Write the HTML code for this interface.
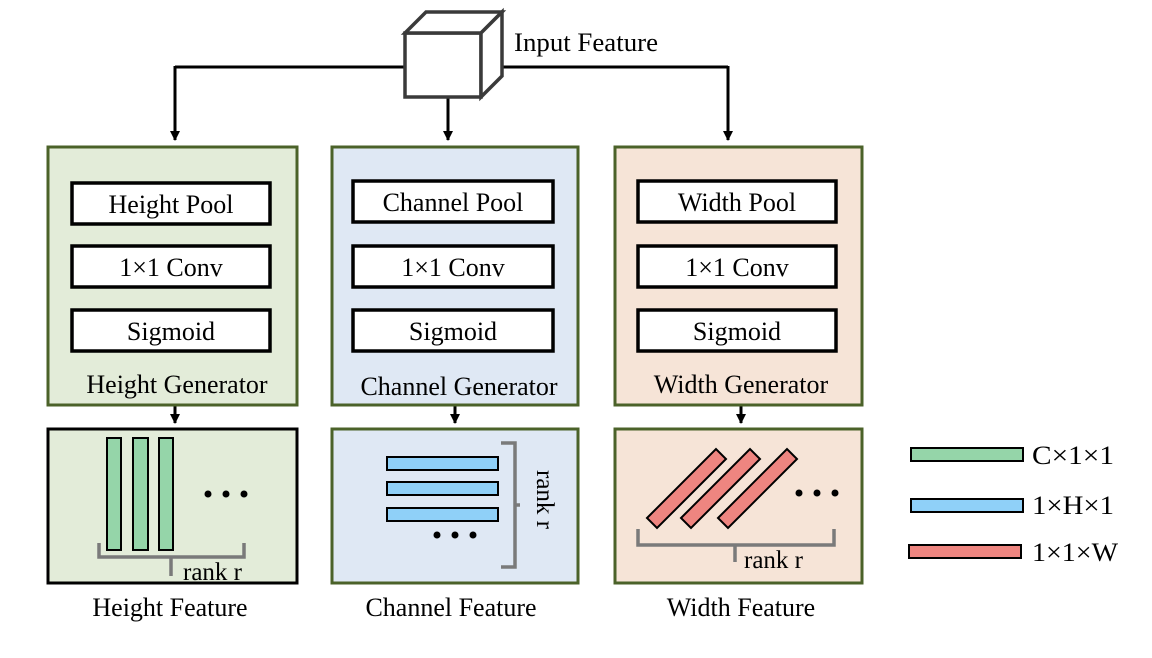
<!DOCTYPE html>
<html><head><meta charset="utf-8"><style>
html,body{margin:0;padding:0;background:#fff}
svg{display:block}
text{font-family:"Liberation Serif",serif;fill:#000}
</style></head><body>
<svg width="1152" height="658" viewBox="0 0 1152 658" xmlns="http://www.w3.org/2000/svg">
<defs>
<marker id="d" viewBox="0 0 10 10" markerWidth="10" markerHeight="10" refX="5" refY="9" orient="0" markerUnits="userSpaceOnUse"><path d="M0,0 L10,0 L5,10 z" fill="#000"/></marker></defs>
<g stroke="#000" stroke-width="3" fill="none">
<path d="M175,67 H405 M502,67 H728"/>
<path d="M175,66 V140" marker-end="url(#d)"/>
<path d="M448,97 V140" marker-end="url(#d)"/>
<path d="M728,66 V140" marker-end="url(#d)"/>
<path d="M175,405 V423" marker-end="url(#d)"/>
<path d="M455,405 V423" marker-end="url(#d)"/>
<path d="M741,405 V423" marker-end="url(#d)"/>
</g>
<g stroke="#3a3a3a" stroke-width="3.5" fill="#fff" stroke-linejoin="miter">
<rect x="405" y="33" width="76" height="64"/>
<path d="M405,33 L426,12 L502,12 L481,33 Z"/>
<path d="M481,33 L502,12 L502,76 L481,97 Z"/>
</g>
<text x="514" y="51" font-size="26" textLength="144" lengthAdjust="spacingAndGlyphs">Input Feature</text>
<g stroke="#4b6229" stroke-width="3">
<rect x="48" y="147" width="249" height="258" fill="#e3ecd9"/>
<rect x="332" y="147" width="246" height="258" fill="#dfe8f4"/>
<rect x="615" y="147" width="247" height="258" fill="#f6e4d7"/>
<rect x="48" y="429" width="249" height="154" fill="#e3ecd9" stroke="#000"/>
<rect x="332" y="429" width="246" height="154" fill="#dfe8f4"/>
<rect x="615" y="429" width="247" height="154" fill="#f6e4d7"/>
</g>
<g stroke="#000" stroke-width="3.5" fill="#fff">
<rect x="72" y="183" width="198" height="41"/><rect x="72" y="246" width="198" height="41"/><rect x="72" y="310" width="198" height="41"/>
<rect x="353" y="181" width="200" height="41"/><rect x="353" y="246" width="200" height="41"/><rect x="353" y="310" width="200" height="41"/>
<rect x="638" y="181" width="198" height="41"/><rect x="638" y="246" width="198" height="41"/><rect x="638" y="310" width="198" height="41"/>
</g>
<g font-size="26" text-anchor="middle">
<text x="171" y="213">Height Pool</text><text x="171" y="276">1×1 Conv</text><text x="171" y="340">Sigmoid</text>
<text x="453" y="211">Channel Pool</text><text x="453" y="276">1×1 Conv</text><text x="453" y="340">Sigmoid</text>
<text x="737" y="211">Width Pool</text><text x="737" y="276">1×1 Conv</text><text x="737" y="340">Sigmoid</text>
<text x="177" y="393">Height Generator</text>
<text x="459" y="395">Channel Generator</text>
<text x="741" y="393">Width Generator</text>
<text x="170" y="616">Height Feature</text>
<text x="451" y="616">Channel Feature</text>
<text x="741" y="616">Width Feature</text>
</g>
<g stroke="#000" stroke-width="2" fill="#95d5a9">
<rect x="107" y="438" width="14" height="112"/><rect x="133" y="438" width="15" height="112"/><rect x="159" y="438" width="14" height="112"/>
</g>
<g fill="#000"><circle cx="208" cy="494" r="3.5"/><circle cx="226" cy="494" r="3.5"/><circle cx="244" cy="494" r="3.5"/></g>
<path d="M99,543 V557 H244 V543 M171,557 V576" stroke="#7a7a7a" stroke-width="3.5" fill="none"/>
<text x="183" y="580" font-size="25">rank r</text>
<g stroke="#000" stroke-width="2" fill="#8fd0f8">
<rect x="387" y="457" width="111" height="13"/><rect x="387" y="482" width="111" height="13"/><rect x="387" y="508" width="111" height="13"/>
</g>
<g fill="#000"><circle cx="437" cy="535" r="3.5"/><circle cx="455" cy="535" r="3.5"/><circle cx="473" cy="535" r="3.5"/></g>
<path d="M501,443 H515 V567 H501 M515,505 H520" stroke="#7a7a7a" stroke-width="3.5" fill="none"/>
<text transform="translate(537,470) rotate(90)" font-size="25">rank r</text>
<g stroke="#000" stroke-width="2" fill="#ee8580">
<path d="M647,518 L716,449 L726,459 L657,528 Z"/>
<path d="M681,518 L750,449 L760,459 L691,528 Z"/>
<path d="M718,518 L787,449 L797,459 L728,528 Z"/>
</g>
<g fill="#000"><circle cx="799" cy="493" r="3.5"/><circle cx="817" cy="493" r="3.5"/><circle cx="835" cy="493" r="3.5"/></g>
<path d="M638,529 V545 H834 V529 M735,545 V562" stroke="#7a7a7a" stroke-width="3.5" fill="none"/>
<text x="744" y="568" font-size="25">rank r</text>
<g stroke="#000" stroke-width="2">
<rect x="911" y="448" width="112" height="13" fill="#95d5a9"/>
<rect x="911" y="499" width="112" height="13" fill="#8fd0f8"/>
<rect x="909" y="545" width="112" height="13" fill="#ee8580"/>
</g>
<g font-size="26"><text x="1032" y="464" textLength="82" lengthAdjust="spacingAndGlyphs">C×1×1</text><text x="1032" y="514" textLength="82" lengthAdjust="spacingAndGlyphs">1×H×1</text><text x="1032" y="561" textLength="86" lengthAdjust="spacingAndGlyphs">1×1×W</text></g>
</svg>
</body></html>
